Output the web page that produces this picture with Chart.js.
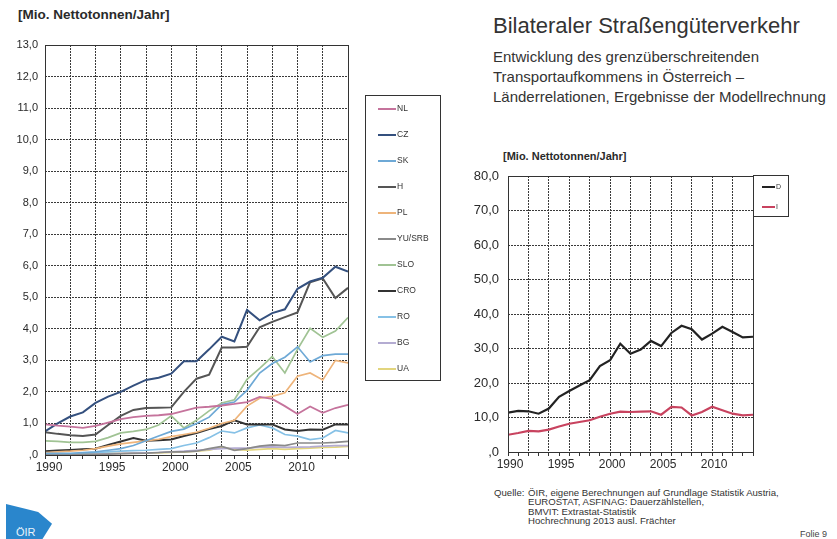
<!DOCTYPE html>
<html>
<head>
<meta charset="utf-8">
<script src="https://cdn.jsdelivr.net/npm/chart.js@4.4.1/dist/chart.umd.min.js"></script>
<style>
body { margin: 0; width: 837px; height: 539px; overflow: hidden; position: relative; background: #fff; font-family: Arial, "Liberation Sans", sans-serif; color: #2a2a2a; }
.abs { position: absolute; white-space: nowrap; }
.unit { font-weight: bold; }
.title { left: 493px; top: 13px; font-size: 22px; line-height: 26px; color: #333; }
.sub { left: 493px; top: 47px; font-size: 15px; line-height: 20px; color: #333; }
.src { left: 494px; top: 488px; font-size: 9.6px; line-height: 9.3px; color: #333; }
.src .lead { display: inline-block; width: 34px; }
.src .cont { padding-left: 34px; }
.logo { left: 6px; top: 504px; width: 46px; height: 36px; background: #2a86cc; clip-path: polygon(0 0, 70% 22%, 100% 55%, 78% 100%, 0 100%); color: #e8f3fb; font-size: 11px; }
canvas { position: absolute; }
</style>
</head>
<body>
<div class="abs unit" style="left:18px;top:7px;font-size:13.5px;">[Mio. Nettotonnen/Jahr]</div>
<div class="abs title">Bilateraler Straßengüterverkehr</div>
<div class="abs sub">Entwicklung des grenzüberschreitenden<br>Transportaufkommens in Österreich –<br>Länderrelationen, Ergebnisse der Modellrechnung</div>
<div class="abs unit" style="left:503px;top:150px;font-size:11px;">[Mio. Nettotonnen/Jahr]</div>
<div class="abs src"><span class="lead">Quelle:</span>ÖIR, eigene Berechnungen auf Grundlage Statistik Austria,<br>
<span class="cont">EUROSTAT, ASFINAG: Dauerzählstellen,</span><br>
<span class="cont">BMVIT: Extrastat-Statistik</span><br>
<span class="cont">Hochrechnung 2013 ausl. Frächter</span></div>
<div class="abs" style="left:800px;top:529px;font-size:9px;color:#444;">Folie 9</div>
<div class="abs logo"><span style="position:absolute;left:10px;top:22px;">ÖIR</span></div>

<canvas id="left-chart" style="left:0;top:0;" width="445" height="485"></canvas>
<canvas id="right-chart" style="left:455px;top:140px;" width="340" height="342"></canvas>

<script>
const years = [1990, 1991, 1992, 1993, 1994, 1995, 1996, 1997, 1998, 1999, 2000, 2001, 2002,
    2003, 2004, 2005, 2006, 2007, 2008, 2009, 2010, 2011, 2012, 2013, 2014];

// left chart, Mio. t per year
const nl = [0.97, 0.93, 0.9, 0.86, 0.92, 1.03, 1.14, 1.2, 1.24, 1.26, 1.3, 1.4, 1.5, 1.53, 1.57, 1.62, 1.68, 1.84, 1.78, 1.55, 1.3, 1.54, 1.34, 1.49, 1.59];
const cz = [0.75, 1.0, 1.22, 1.35, 1.65, 1.85, 2.0, 2.2, 2.38, 2.45, 2.58, 2.97, 2.97, 3.35, 3.75, 3.6, 4.6, 4.27, 4.5, 4.62, 5.27, 5.5, 5.62, 5.97, 5.82];
const sk = [0.05, 0.05, 0.05, 0.08, 0.1, 0.15, 0.2, 0.3, 0.45, 0.6, 0.75, 0.82, 1.0, 1.2, 1.6, 1.68, 2.05, 2.6, 2.9, 3.1, 3.43, 2.95, 3.15, 3.2, 3.2];
const hu = [0.72, 0.67, 0.63, 0.6, 0.65, 0.95, 1.24, 1.43, 1.49, 1.5, 1.51, 2.0, 2.42, 2.55, 3.41, 3.41, 3.43, 4.05, 4.22, 4.37, 4.52, 5.48, 5.6, 4.98, 5.3];
const pl = [0.08, 0.1, 0.12, 0.15, 0.2, 0.28, 0.35, 0.4, 0.45, 0.5, 0.58, 0.65, 0.72, 0.85, 1.0, 1.1, 1.55, 1.8, 1.86, 1.97, 2.5, 2.6, 2.38, 3.0, 2.92];
const yuSrb = [0.02, 0.02, 0.02, 0.02, 0.02, 0.03, 0.04, 0.05, 0.06, 0.08, 0.1, 0.1, 0.12, 0.2, 0.27, 0.15, 0.2, 0.28, 0.32, 0.3, 0.38, 0.38, 0.38, 0.4, 0.43];
const slo = [0.45, 0.43, 0.4, 0.4, 0.43, 0.55, 0.7, 0.75, 0.81, 0.95, 1.24, 0.86, 1.1, 1.4, 1.65, 1.75, 2.4, 2.75, 3.12, 2.6, 3.35, 4.02, 3.73, 3.93, 4.36];
const cro = [0.12, 0.14, 0.16, 0.18, 0.2, 0.32, 0.43, 0.54, 0.45, 0.47, 0.49, 0.6, 0.7, 0.82, 0.92, 1.1, 0.97, 0.97, 0.97, 0.81, 0.76, 0.81, 0.8, 0.97, 0.97];
const ro = [0.02, 0.02, 0.03, 0.05, 0.08, 0.1, 0.12, 0.14, 0.15, 0.18, 0.2, 0.3, 0.38, 0.55, 0.76, 0.7, 0.86, 0.95, 0.86, 0.65, 0.6, 0.49, 0.54, 0.78, 0.7];
const bg = [0.02, 0.02, 0.02, 0.03, 0.03, 0.04, 0.05, 0.06, 0.07, 0.08, 0.1, 0.12, 0.15, 0.18, 0.2, 0.22, 0.22, 0.25, 0.26, 0.24, 0.25, 0.26, 0.28, 0.3, 0.3];
const ua = [0.03, 0.03, 0.03, 0.04, 0.04, 0.05, 0.05, 0.06, 0.06, 0.07, 0.08, 0.1, 0.12, 0.15, 0.25, 0.18, 0.15, 0.18, 0.2, 0.18, 0.2, 0.22, 0.24, 0.25, 0.27];

// right chart
const de = [11.4, 11.9, 11.8, 11.1, 12.6, 16.0, 17.7, 19.3, 20.8, 24.9, 26.6, 31.4, 28.5, 29.7, 32.2, 30.7, 34.5, 36.6, 35.6, 32.6, 34.3, 36.3, 34.8, 33.2, 33.4];
const it = [5.0, 5.5, 6.1, 6.0, 6.5, 7.4, 8.2, 8.7, 9.2, 10.2, 11.1, 11.7, 11.6, 11.7, 11.8, 10.8, 13.1, 12.9, 10.6, 11.6, 13.1, 12.1, 11.1, 10.6, 10.8];

const leftTicks = [0, 1, 2, 3, 4, 5, 6, 7, 8, 9, 10, 11, 12, 13];
const rightTicks = [0, 10, 20, 30, 40, 50, 60, 70, 80];
const yearLabels = [1990, 1995, 2000, 2005, 2010];

const GRID = "#3a3a3a";
const FAMILY = "Arial, 'Liberation Sans', sans-serif";

function fmt(v) {
    if (v === 0) return ",0";
    return v.toFixed(1).replace(".", ",");
}

function series(label, values, color, width) {
    return {
        label: label,
        data: values.map((v, i) => ({ x: years[i], y: v })),
        borderColor: color,
        backgroundColor: color,
        borderWidth: width,
        pointRadius: 0,
        tension: 0,
        fill: false,
    };
}

// frame round the plot + a boxed legend like the original
const boxLegend = {
    id: "boxLegend",
    afterDraw(chart, args, opts) {
        const ctx = chart.ctx;
        const a = chart.chartArea;
        ctx.save();
        ctx.strokeStyle = "#333";
        ctx.lineWidth = 1;
        ctx.strokeRect(a.left + 0.5, a.top + 0.5, a.right - a.left, a.bottom - a.top);
        ctx.strokeRect(opts.x + 0.5, opts.y + 0.5, opts.w, opts.h);
        ctx.font = opts.font;
        ctx.textBaseline = "middle";
        chart.data.datasets.forEach((ds, i) => {
            const y = opts.y + opts.first + i * opts.step;
            ctx.strokeStyle = ds.borderColor;
            ctx.lineWidth = 2;
            ctx.beginPath();
            ctx.moveTo(opts.x + opts.lineX, y);
            ctx.lineTo(opts.x + opts.lineX + opts.lineLen, y);
            ctx.stroke();
            ctx.fillStyle = "#333";
            ctx.fillText(ds.label, opts.x + opts.lineX + opts.lineLen + 1, y);
        });
        ctx.restore();
    },
};

function makeOptions(yMax, yTicks, yWidth, yPad, yFont, xFont, labelShift, padding, legend) {
    return {
        responsive: false,
        animation: false,
        layout: { autoPadding: false, padding: padding },
        plugins: {
            legend: { display: false },
            tooltip: { enabled: false },
            boxLegend: legend,
        },
        scales: {
            x: {
                type: "linear",
                min: 1990,
                max: 2014,
                afterBuildTicks: (s) => { s.ticks = years.map((v) => ({ value: v })); },
                afterFit: (s) => { s.height = 30; },
                grid: {
                    color: (c) => (c.tick && c.tick.value % 2 === 0 ? GRID : "rgba(0,0,0,0)"),
                    tickColor: "#333",
                    tickLength: 4,
                },
                border: { display: false, dash: [2, 1] },
                ticks: {
                    autoSkip: false,
                    maxRotation: 0,
                    padding: 1,
                    labelOffset: labelShift,
                    color: "#2a2a2a",
                    font: { family: FAMILY, size: xFont },
                    callback: (v) => (yearLabels.includes(v) ? String(v) : ""),
                },
            },
            y: {
                min: 0,
                max: yMax,
                afterBuildTicks: (s) => { s.ticks = yTicks.map((v) => ({ value: v })); },
                afterFit: (s) => { s.width = yWidth; },
                grid: { color: GRID, drawTicks: false },
                border: { display: false, dash: [2, 1] },
                ticks: { padding: yPad, color: "#2a2a2a", font: { family: FAMILY, size: yFont }, callback: fmt },
            },
        },
    };
}

new Chart(document.getElementById("left-chart").getContext("2d"), {
    type: "line",
    data: {
        datasets: [
            series("NL", nl, "#c5739c", 1.8),
            series("CZ", cz, "#34507e", 2),
            series("SK", sk, "#6ea9d6", 1.7),
            series("H", hu, "#555555", 2),
            series("PL", pl, "#eeb47a", 1.7),
            series("YU/SRB", yuSrb, "#8a8a8a", 1.7),
            series("SLO", slo, "#a0c394", 1.7),
            series("CRO", cro, "#333333", 2),
            series("RO", ro, "#86c1e6", 1.7),
            series("BG", bg, "#b4acd2", 1.7),
            series("UA", ua, "#e2d57e", 1.7),
        ],
    },
    plugins: [boxLegend],
    options: makeOptions(13, leftTicks, 45, 7, 11, 12, 4, { top: 45, right: 97, bottom: 0, left: 0 }, {
        x: 365, y: 95, w: 75, h: 285, first: 14, step: 26, lineX: 13, lineLen: 18,
        font: "8.5px Arial, 'Liberation Sans', sans-serif",
    }),
});

new Chart(document.getElementById("right-chart").getContext("2d"), {
    type: "line",
    data: {
        datasets: [
            series("D", de, "#222222", 2.2),
            series("I", it, "#c8435f", 2.2),
        ],
    },
    plugins: [boxLegend],
    options: makeOptions(80, rightTicks, 53, 9, 13, 12, 2, { top: 36, right: 42, bottom: 0, left: 0 }, {
        x: 298, y: 35, w: 35, h: 41, first: 12, step: 20, lineX: 9, lineLen: 13,
        font: "7px Arial, 'Liberation Sans', sans-serif",
    }),
});
</script>
</body>
</html>
